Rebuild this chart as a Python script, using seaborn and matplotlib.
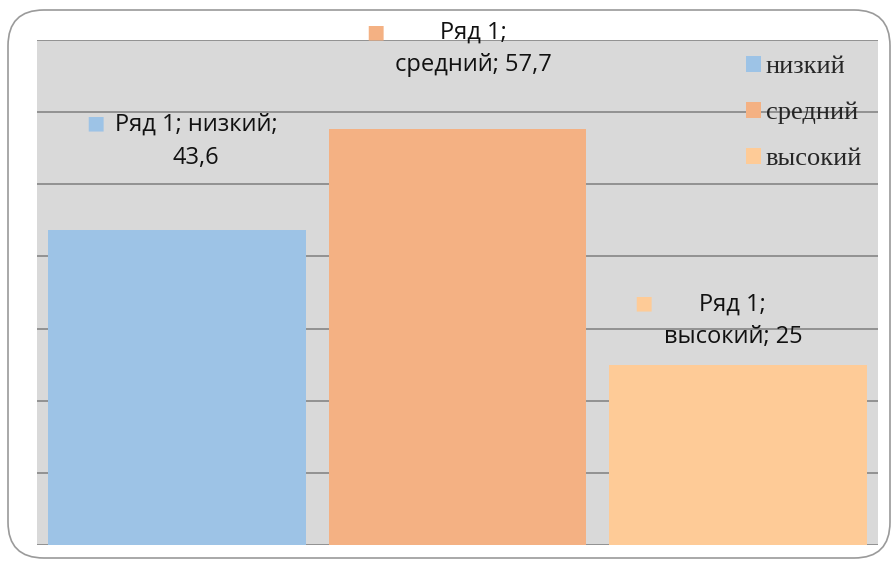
import matplotlib.pyplot as plt
import seaborn as sns
import pandas as pd
from matplotlib.patches import FancyBboxPatch, Patch

# Chart data
categories = ["низкий", "средний", "высокий"]
values = [43.6, 57.7, 25]
value_labels = ["43,6", "57,7", "25"]
series_name = "Ряд 1"
colors = ["#9dc3e6", "#f4b183", "#fecb97"]

df = pd.DataFrame({"cat": categories, "val": values})

sns.set_style("white")
plt.rcParams["font.family"] = ["Open Sans", "DejaVu Sans"]

fig = plt.figure(figsize=(8.96, 5.67), dpi=100)

# rounded outer frame
frame = FancyBboxPatch((8 / 896, 9 / 567), 882 / 896, 548 / 567,
                       boxstyle="round,pad=0,rounding_size=0.04",
                       transform=fig.transFigure, fill=False,
                       edgecolor="#9a9a9a", linewidth=1.2, mutation_aspect=896 / 567)
fig.patches.append(frame)

ax = fig.add_axes([37 / 896, 22 / 567, 841 / 896, 505 / 567])
ax.set_facecolor("#d9d9d9")

sns.barplot(data=df, x="cat", y="val", hue="cat", palette=colors,
            width=0.92, legend=False, ax=ax, saturation=1, linewidth=0, zorder=3)

ax.set_ylim(0, 70)
ax.set_xlim(-0.5, 2.5)
ax.set_yticks(range(0, 71, 10))
ax.yaxis.grid(True, color="#8c8c8c", linewidth=1.3, zorder=0)
ax.set_axisbelow(True)
ax.tick_params(left=False, bottom=False, labelleft=False, labelbottom=False)
ax.set_xlabel("")
ax.set_ylabel("")
for s in ax.spines.values():
    s.set_visible(False)

# data labels: text offset and key-square offset (pixels)
label_texts = [
    f"{series_name}; {categories[0]};\n{value_labels[0]}",
    f"{series_name};\n{categories[1]}; {value_labels[1]}",
    f"{series_name};\n{categories[2]}; {value_labels[2]}",
]
text_off = [(19, 89), (16, 80), (-5, 44)]
key_off = [(-82, 108), (-82, 97), (-94, 62)]
for i, v in enumerate(values):
    ax.annotate(label_texts[i], xy=(i, v), xytext=text_off[i],
                textcoords="offset pixels", ha="center", va="center",
                fontsize=17, linespacing=1.5, color="#111111", zorder=5,
                annotation_clip=False)
    ax.annotate("■", xy=(i, v), xytext=key_off[i], textcoords="offset pixels",
                ha="center", va="center", fontsize=14, color=colors[i],
                family="DejaVu Sans", zorder=5, annotation_clip=False)

handles = [Patch(facecolor=c, edgecolor="none") for c in colors]
leg = ax.legend(handles, categories, loc="upper left",
                bbox_to_anchor=(746 / 896, 1 - 56 / 567), bbox_transform=fig.transFigure,
                frameon=False, handlelength=0.55, handleheight=0.55,
                handletextpad=0.2, labelspacing=0.89, borderaxespad=0,
                borderpad=0, prop={"family": "Liberation Serif", "size": 19})

fig.savefig("out.png", dpi=100)
